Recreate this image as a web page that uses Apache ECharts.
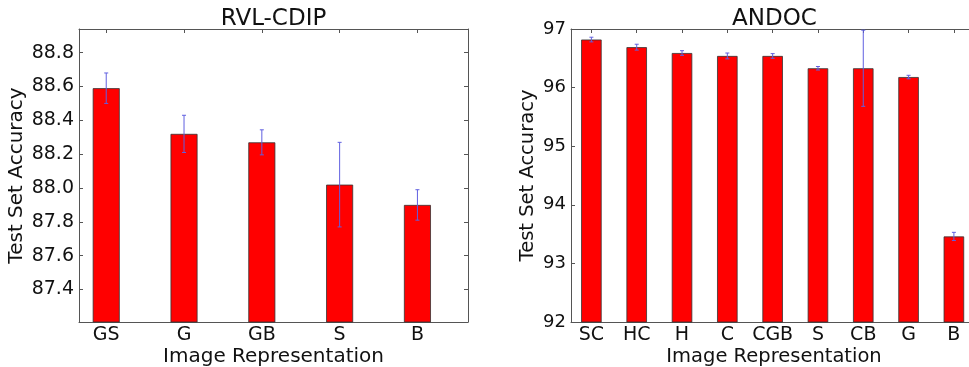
<!DOCTYPE html>
<html>
<head>
<meta charset="utf-8">
<script src="https://cdn.jsdelivr.net/npm/echarts@6/dist/echarts.min.js"></script>
<style>
  html, body { margin: 0; padding: 0; background: #fff; }
  #chart { width: 969px; height: 367px; }
</style>
</head>
<body>
<div id="chart"></div>
<script>
// RVL-CDIP (left panel)
const leftCategories = ['GS', 'G', 'GB', 'S', 'B'];
const leftAccuracy = [88.59, 88.32, 88.27, 88.02, 87.90];
const leftError = [0.09, 0.11, 0.074, 0.25, 0.09];
const leftYTicks = [87.4, 87.6, 87.8, 88.0, 88.2, 88.4, 88.6, 88.8];

// ANDOC (right panel)
const rightCategories = ['SC', 'HC', 'H', 'C', 'CGB', 'S', 'CB', 'G', 'B'];
const rightAccuracy = [96.82, 96.69, 96.59, 96.54, 96.54, 96.33, 96.33, 96.18, 93.46];
const rightError = [0.04, 0.05, 0.04, 0.05, 0.04, 0.03, 0.65, 0.03, 0.07];
const rightYTicks = [92, 93, 94, 95, 96, 97];

const FONT = 'DejaVu Sans';
const FRAME = '#555';
const ERR_COLOR = '#6060e0';

const chart = echarts.init(document.getElementById('chart'));

const idx = (arr) => arr.map((_, i) => i);

function frameAxis(extra) {
  return Object.assign({
    type: 'value',
    axisLine: { show: true, onZero: false, lineStyle: { color: FRAME, width: 1 } },
    axisTick: { show: true, inside: true, length: 4, lineStyle: { color: FRAME } },
    axisLabel: { show: false },
    splitLine: { show: false },
    nameMoveOverlap: false,
  }, extra);
}

function catAxis(grid, names, min, max, position, nameSize) {
  const bottom = position === 'bottom';
  return frameAxis({
    gridIndex: grid,
    position,
    min,
    max,
    axisTick: { show: true, inside: true, length: 4, lineStyle: { color: FRAME }, customValues: idx(names) },
    axisLabel: bottom ? {
      show: true,
      customValues: idx(names),
      formatter: (v) => names[Math.round(v)] || '',
      color: '#111',
      fontFamily: FONT,
      fontSize: 19,
      margin: 4,
    } : { show: false },
    name: bottom ? 'Image Representation' : '',
    nameLocation: 'middle',
    nameGap: 25,
    nameTextStyle: { color: '#111', fontFamily: FONT, fontSize: nameSize },
  });
}

function errorSeries(xIdx, yIdx, values, errs) {
  return {
    type: 'custom',
    xAxisIndex: xIdx,
    yAxisIndex: yIdx,
    z: 5,
    data: values.map((v, i) => [i, v, errs[i]]),
    renderItem: (params, api) => {
      const x = api.value(0);
      const y = api.value(1);
      const e = api.value(2);
      const top = api.coord([x, y + e]);
      const bot = api.coord([x, y - e]);
      const style = { stroke: ERR_COLOR, lineWidth: 1 };
      return {
        type: 'group',
        children: [
          { type: 'line', shape: { x1: top[0], y1: top[1], x2: bot[0], y2: bot[1] }, style },
          { type: 'line', shape: { x1: top[0] - 2, y1: top[1], x2: top[0] + 2, y2: top[1] }, style },
          { type: 'line', shape: { x1: bot[0] - 2, y1: bot[1], x2: bot[0] + 2, y2: bot[1] }, style },
        ],
      };
    },
  };
}

chart.setOption({
  animation: false,
  backgroundColor: '#fff',
  title: [
    { text: 'RVL-CDIP', left: 268.5, top: 3, textAlign: 'center',
      textStyle: { fontFamily: FONT, fontSize: 23, fontWeight: 'normal', color: '#111' } },
    { text: 'ANDOC', left: 769.5, top: 3, textAlign: 'center',
      textStyle: { fontFamily: FONT, fontSize: 23, fontWeight: 'normal', color: '#111' } },
  ],
  grid: [
    { left: 79, top: 29, width: 389, height: 293, outerBoundsMode: 'none', containLabel: false },
    { left: 571, top: 29, width: 406, height: 293, outerBoundsMode: 'none', containLabel: false },
  ],
  xAxis: [
    catAxis(0, leftCategories, -0.35, 4.65, 'bottom', 20),
    catAxis(0, leftCategories, -0.35, 4.65, 'top', 20),
    catAxis(1, rightCategories, -0.45, 8.51, 'bottom', 19.5),
    catAxis(1, rightCategories, -0.45, 8.51, 'top', 19.5),
  ],
  yAxis: [
    frameAxis({
      gridIndex: 0, position: 'left', min: 87.208, max: 88.94,
      axisTick: { show: true, inside: true, length: 4, lineStyle: { color: FRAME }, customValues: leftYTicks },
      axisLabel: { show: true, customValues: leftYTicks, formatter: (v) => v.toFixed(1),
        color: '#111', fontFamily: FONT, fontSize: 19, margin: 5 },
      name: 'Test Set Accuracy', nameLocation: 'middle', nameGap: 52,
      nameTextStyle: { color: '#111', fontFamily: FONT, fontSize: 20 },
    }),
    frameAxis({
      gridIndex: 0, position: 'right', min: 87.208, max: 88.94,
      axisTick: { show: true, inside: true, length: 4, lineStyle: { color: FRAME }, customValues: leftYTicks },
    }),
    frameAxis({
      gridIndex: 1, position: 'left', min: 92, max: 97, interval: 1,
      axisTick: { show: true, inside: true, length: 4, lineStyle: { color: FRAME }, customValues: rightYTicks },
      axisLabel: { show: true, customValues: rightYTicks, formatter: (v) => String(v),
        color: '#111', fontFamily: FONT, fontSize: 18, margin: 5 },
      name: 'Test Set Accuracy', nameLocation: 'middle', nameGap: 33,
      nameTextStyle: { color: '#111', fontFamily: FONT, fontSize: 19.5 },
    }),
    frameAxis({
      gridIndex: 1, position: 'right', min: 92, max: 97, interval: 1,
      axisTick: { show: true, inside: true, length: 4, lineStyle: { color: FRAME }, customValues: rightYTicks },
    }),
  ],
  series: [
    {
      type: 'bar', xAxisIndex: 0, yAxisIndex: 0, barWidth: 27,
      data: leftAccuracy.map((v, i) => [i, v]),
      itemStyle: { color: '#ff0000', borderColor: '#333', borderWidth: 0.8 },
    },
    errorSeries(0, 0, leftAccuracy, leftError),
    {
      type: 'bar', xAxisIndex: 2, yAxisIndex: 2, barWidth: 20.5,
      data: rightAccuracy.map((v, i) => [i, v]),
      itemStyle: { color: '#ff0000', borderColor: '#333', borderWidth: 0.8 },
    },
    errorSeries(2, 2, rightAccuracy, rightError),
  ],
});
</script>
</body>
</html>
